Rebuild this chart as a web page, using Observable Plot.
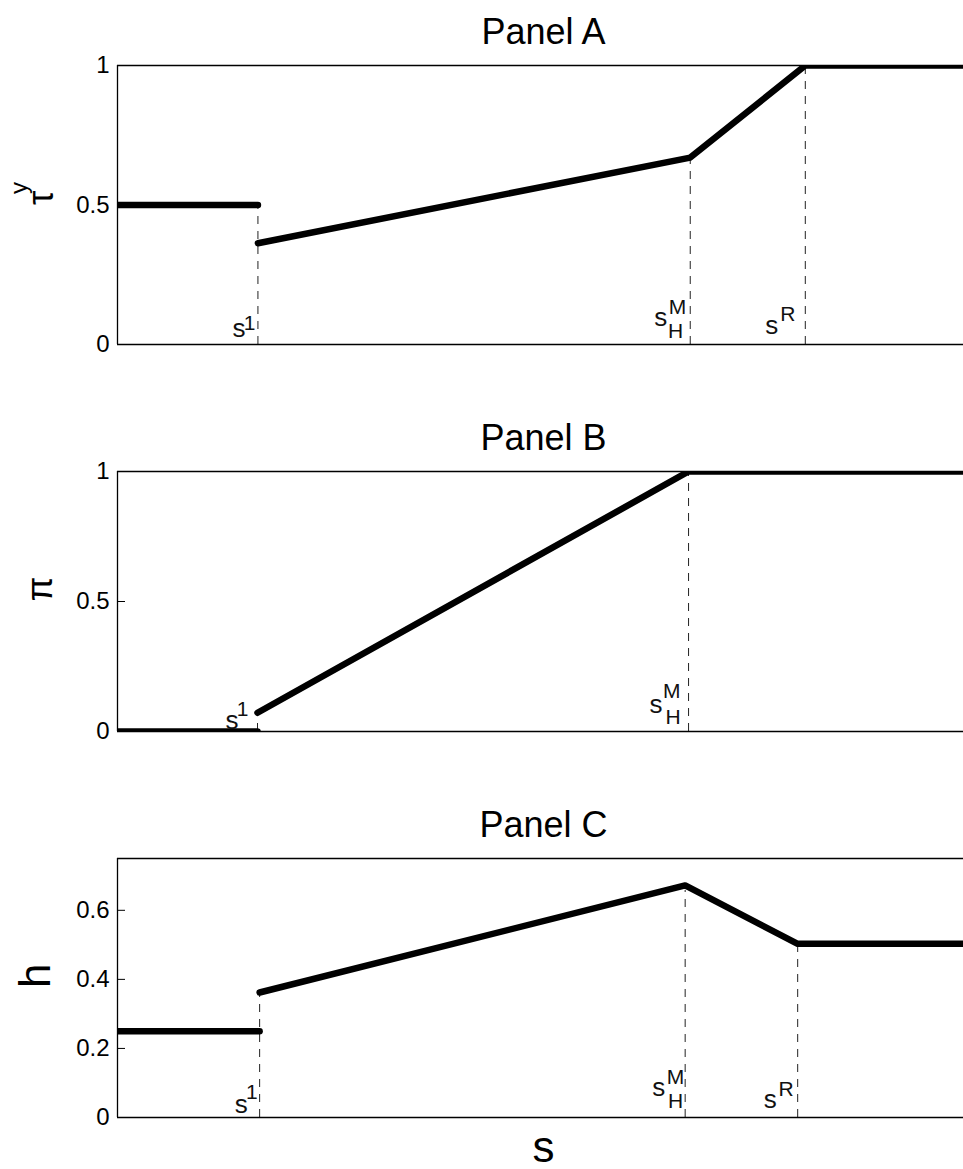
<!DOCTYPE html>
<html><head><meta charset="utf-8">
<script src="https://cdn.jsdelivr.net/npm/d3@7"></script>
<script src="https://cdn.jsdelivr.net/npm/@observablehq/plot@0.6"></script>
<style>
body{margin:0;background:#fff;}
#chart{position:relative;width:963px;height:1169px;overflow:hidden;}
#chart > div{position:absolute;left:0;}
#chart g[aria-label="y-axis"] text,
#chart g[aria-label="y-axis tick label"] text{font-size:24px;}
</style></head><body><div id="chart"></div>
<script>
// ---- data ----
const titles = ["Panel A", "Panel B", "Panel C"];
const yLabels = ["τ", "π", "h"];
const yLabelSups = ["y", "", ""];
const xLabel = "s";

const ticksA = [0, 0.5, 1];
const ticksB = [0, 0.5, 1];
const ticksC = [0, 0.2, 0.4, 0.6];
const domainA = [0, 1];
const domainB = [0, 1];
const domainC = [0, 0.75];

// Panel A: tau^y
const sA = [0, 0.166, 0.166, 0.677, 0.813, 1];
const vA = [0.5, 0.5, 0.363, 0.67, 1, 1];
const segA = [0, 0, 1, 1, 1, 1];
const breaksA = [0.166, 0.677, 0.813];
const supA = ["1", "M", "R"];
const subA = ["", "H", ""];

// Panel B: pi
const sB = [0, 0.1655, 0.1655, 0.675, 1];
const vB = [0, 0, 0.072, 1, 1];
const segB = [0, 0, 1, 1, 1];
const breaksB = [0.1655, 0.675];
const supB = ["1", "M"];
const subB = ["", "H"];

// Panel C: h
const sC = [0, 0.168, 0.168, 0.671, 0.804, 1];
const vC = [0.25, 0.25, 0.362, 0.672, 0.503, 0.503];
const segC = [0, 0, 1, 1, 1, 1];
const breaksC = [0.168, 0.671, 0.804];
const supC = ["1", "M", "R"];
const subC = ["", "H", ""];

// ---- layout / style ----
const FONT = '"Liberation Sans", Arial, Helvetica, sans-serif';
const W = 963, ML = 117, MR = 0;
const innerW = W - ML - MR;

const panels = [
  {title: titles[0], yl: yLabels[0], ysup: yLabelSups[0], ticks: ticksA, domain: domainA,
   s: sA, v: vA, seg: segA, breaks: breaksA, sup: supA, sub: subA,
   top: 0, mt: 65, mb: 20, inner: 279, ylDx: -76, ylSize: 36,
   off: [ {s: [-12.5, -8], sup: [-2.5, -15]},
          {s: [-23, -19], sup: [-4, -31], sub: [-7, -7]},
          {s: [-27, -11], sup: [-10, -24]} ]},
  {title: titles[1], yl: yLabels[1], ysup: yLabelSups[1], ticks: ticksB, domain: domainB,
   s: sB, v: vB, seg: segB, breaks: breaksB, sup: supB, sub: subB,
   top: 400, mt: 71, mb: 20, inner: 260, ylDx: -77, ylSize: 36,
   off: [ {s: [-19, -3], sup: [-9, -16]},
          {s: [-26, -19], sup: [-8, -34], sub: [-8, -8]} ]},
  {title: titles[2], yl: yLabels[2], ysup: yLabelSups[2], ticks: ticksC, domain: domainC,
   s: sC, v: vC, seg: segC, breaks: breaksC, sup: supC, sub: subC,
   top: 790, mt: 68, mb: 52, inner: 259, ylDx: -82, ylSize: 44, xlabel: xLabel, extendMid: true,
   off: [ {s: [-12, -5], sup: [-2, -19]},
          {s: [-20, -22], sup: [-1, -34], sub: [-2, -10]},
          {s: [-21, -10], sup: [-4, -22]} ]}
];

function build(p) {
  const data = p.s.map((s, i) => ({s, v: p.v[i], seg: p.seg[i]}));
  const rules = p.breaks.map((b, i) => ({
    s: b,
    top: d3.max(data.filter(d => d.s === b), d => d.v),
    sup: p.sup[i], sub: p.sub[i], i
  }));
  const y0 = p.domain[0];
  const marks = [];
  rules.forEach(r => {
    marks.push(Plot.ruleX([r], {x: "s", y1: () => y0, y2: "top", stroke: "#222", strokeWidth: 1,
      strokeDasharray: "8,7", insetBottom: (p.extendMid && r.i === 1) ? -5 : 0}));
  });
  marks.push(Plot.ruleY([p.domain[0], p.domain[1]], {stroke: "#000", strokeWidth: 1.3}));
  marks.push(Plot.ruleX([0], {stroke: "#000", strokeWidth: 1.3}));
  marks.push(Plot.tickY(p.ticks, {y: d => d, insetRight: innerW - 8, stroke: "#000", strokeWidth: 1}));
  marks.push(Plot.line(data, {x: "s", y: "v", z: "seg", stroke: "#000", strokeWidth: 6.5,
    strokeLinecap: "round", strokeLinejoin: "round", clip: true}));
  // annotation labels
  rules.forEach(r => {
    const o = p.off[r.i];
    marks.push(Plot.text([r], {x: "s", y: () => y0, text: () => "s", textAnchor: "end", lineAnchor: "bottom",
      dx: o.s[0], dy: o.s[1], fontSize: 26, fill: "#111"}));
    marks.push(Plot.text([r], {x: "s", y: () => y0, text: "sup", textAnchor: "end", lineAnchor: "bottom",
      dx: o.sup[0], dy: o.sup[1], fontSize: 21, fill: "#111"}));
    if (r.sub) marks.push(Plot.text([r], {x: "s", y: () => y0, text: "sub", textAnchor: "end", lineAnchor: "bottom",
      dx: o.sub[0], dy: o.sub[1], fontSize: 21, fill: "#111"}));
  });
  // title
  marks.push(Plot.text([p.title], {text: d => d, frameAnchor: "top", lineAnchor: "bottom", dy: -22, dx: 3,
    fontSize: 36, fill: "#000"}));
  // y label
  marks.push(Plot.text([p.yl], {text: d => d, frameAnchor: "left", dx: p.ylDx, rotate: -90,
    fontSize: p.ylSize, fill: "#000"}));
  if (p.ysup) marks.push(Plot.text([p.ysup], {text: d => d, frameAnchor: "left", dx: p.ylDx - 22, dy: -11,
    rotate: -90, fontSize: 24, fill: "#000"}));
  if (p.xlabel) marks.push(Plot.text([p.xlabel], {text: d => d, frameAnchor: "bottom", lineAnchor: "bottom",
    dy: 44, dx: 3, fontSize: 44, fill: "#000"}));

  const svg = Plot.plot({
    width: W,
    height: p.mt + p.inner + p.mb,
    marginLeft: ML, marginRight: MR, marginTop: p.mt, marginBottom: p.mb,
    style: {fontSize: "24px", fontFamily: FONT, background: "transparent", color: "#000", overflow: "visible"},
    x: {domain: [0, 1], axis: null},
    y: {domain: p.domain, ticks: p.ticks, tickSize: 0, tickPadding: 8, tickFormat: d => String(d), label: null},
    marks
  });
  const holder = document.createElement("div");
  holder.style.top = p.top + "px";
  holder.appendChild(svg);
  document.getElementById("chart").appendChild(holder);
}
panels.forEach(build);
</script>
</body></html>
